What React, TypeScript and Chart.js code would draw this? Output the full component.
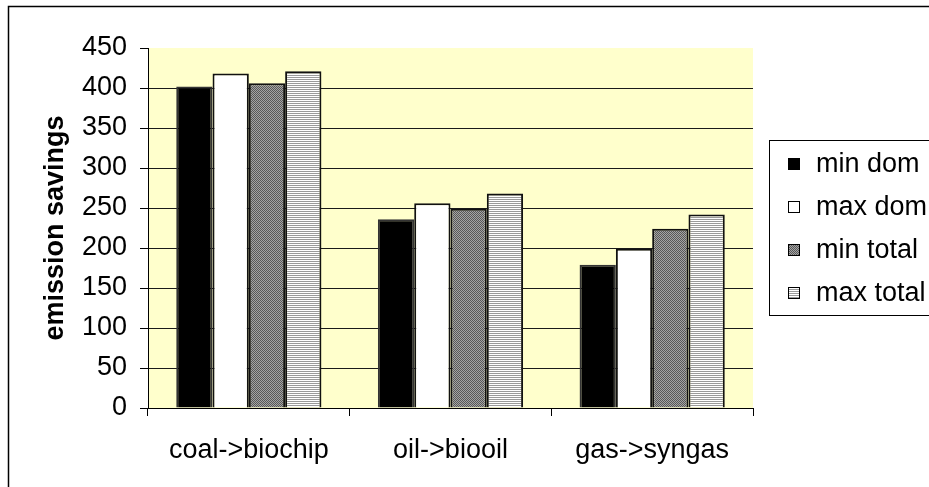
import React, { useEffect, useRef } from "react";
import { Chart, registerables } from "chart.js";

Chart.register(...registerables);

const categories = ["coal->biochip", "oil->biooil", "gas->syngas"];
const seriesNames = ["min dom", "max dom", "min total", "max total"];
const minDom = [402, 236, 179];
const maxDom = [418, 256, 199];
const minTotal = [406, 249, 224];
const maxTotal = [421, 268, 242];
const yTicks = [0, 50, 100, 150, 200, 250, 300, 350, 400, 450];

const FONT = "'Liberation Sans', Arial, sans-serif";

function makeChecker(): CanvasPattern | string {
  const c = document.createElement("canvas");
  c.width = 2;
  c.height = 2;
  const g = c.getContext("2d");
  if (!g) return "#808080";
  g.fillStyle = "#a4a4a4";
  g.fillRect(0, 0, 2, 2);
  g.fillStyle = "#585858";
  g.fillRect(0, 0, 1, 1);
  g.fillRect(1, 1, 1, 1);
  const p = g.createPattern(c, "repeat");
  return p || "#808080";
}

function makeHLines(): CanvasPattern | string {
  const c = document.createElement("canvas");
  c.width = 2;
  c.height = 2;
  const g = c.getContext("2d");
  if (!g) return "#d0d0d0";
  g.fillStyle = "#ffffff";
  g.fillRect(0, 0, 2, 2);
  g.fillStyle = "#9a9a9a";
  g.fillRect(0, 1, 2, 1);
  const p = g.createPattern(c, "repeat");
  return p || "#d0d0d0";
}

export default function App() {
  const ref = useRef<HTMLCanvasElement | null>(null);

  useEffect(() => {
    document.body.style.margin = "0";
    const canvas = ref.current;
    if (!canvas) return;
    const checker = makeChecker();
    const hlines = makeHLines();
    const fills = ["#000000", "#ffffff", checker, hlines];
    const borders = ["#333333", "#111111", "#111111", "#111111"];
    const values = [minDom, maxDom, minTotal, maxTotal];

    const frameAndLegend = {
      id: "frameAndLegend",
      beforeDraw(chart: any) {
        const ctx = chart.ctx;
        ctx.save();
        ctx.fillStyle = "#ffffff";
        ctx.fillRect(0, 0, chart.width, chart.height);
        const a = chart.chartArea;
        ctx.fillStyle = "#ffffcc";
        ctx.fillRect(a.left, a.top, a.right - a.left, a.bottom - a.top);
        ctx.restore();
      },
      afterDraw(chart: any) {
        const ctx = chart.ctx;
        ctx.save();
        ctx.strokeStyle = "#000000";
        ctx.lineWidth = 1.5;
        ctx.strokeRect(8.5, 6.5, chart.width + 20, chart.height + 20);
        ctx.lineWidth = 1;
        ctx.strokeRect(769.5, 140.5, 200, 175);
        const ys = [164, 207, 250, 293];
        chart.data.datasets.forEach((ds: any, i: number) => {
          const y = ys[i];
          ctx.fillStyle = ds.backgroundColor;
          ctx.fillRect(788, y - 6, 12, 12);
          ctx.strokeStyle = "#000000";
          ctx.lineWidth = 1;
          ctx.strokeRect(788.5, y - 5.5, 11, 11);
          ctx.fillStyle = "#000000";
          ctx.font = `27px ${FONT}`;
          ctx.textBaseline = "middle";
          ctx.textAlign = "left";
          ctx.fillText(ds.label, 816, y + 1);
        });
        ctx.restore();
      },
    };

    const chart = new Chart(canvas, {
      type: "bar",
      data: {
        labels: categories,
        datasets: seriesNames.map((name, i) => ({
          label: name,
          data: values[i],
          backgroundColor: fills[i] as any,
          borderColor: borders[i],
          borderWidth: 2,
          categoryPercentage: 0.72,
          barPercentage: 1.0,
        })),
      },
      options: {
        responsive: false,
        animation: false,
        devicePixelRatio: 1,
        layout: { padding: { left: 20, right: 176, top: 48, bottom: 0 } },
        plugins: {
          legend: { display: false },
          tooltip: { enabled: false },
          title: { display: false },
        },
        scales: {
          x: {
            grid: {
              offset: true,
              drawOnChartArea: false,
              drawTicks: true,
              tickLength: 8,
              color: "#000000",
              lineWidth: 1,
            },
            border: { display: true, color: "#000000", width: 1 },
            ticks: {
              color: "#000000",
              font: { family: FONT, size: 27 },
              padding: 18,
              maxRotation: 0,
            },
            afterFit(scale: any) {
              scale.height = 79;
            },
          },
          y: {
            min: 0,
            max: 450,
            afterBuildTicks(scale: any) {
              scale.ticks = yTicks.map((v) => ({ value: v }));
            },
            grid: {
              color: (ctx: any) =>
                ctx.tick && (ctx.tick.value === 450 || ctx.tick.value === 0)
                  ? "rgba(0,0,0,0)"
                  : "#1a1a1a",
              tickColor: "#000000",
              tickLength: 8,
              lineWidth: 1,
            },
            border: { display: true, color: "#000000", width: 1 },
            ticks: {
              color: "#000000",
              font: { family: FONT, size: 27 },
              padding: 13,
            },
            title: {
              display: true,
              text: "emission savings",
              color: "#000000",
              font: { family: FONT, size: 27, weight: "bold" },
              padding: { top: 19, bottom: 0 },
            },
            afterFit(scale: any) {
              scale.width = 128;
            },
          },
        },
      },
      plugins: [frameAndLegend],
    });
    return () => chart.destroy();
  }, []);

  return (
    <div style={{ width: 929, height: 487 }}>
      <canvas ref={ref} width={929} height={487} style={{ display: "block" }} />
    </div>
  );
}
